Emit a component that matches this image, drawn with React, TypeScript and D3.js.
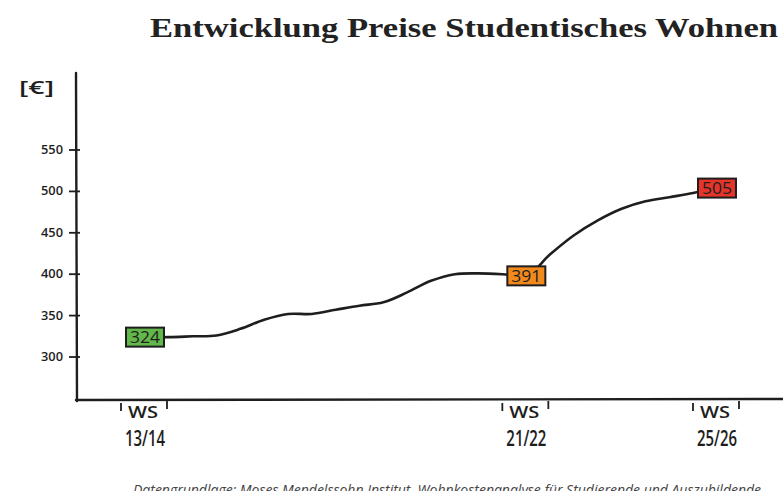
import React from "react";
import * as d3 from "d3";

// ---- data ----
const halfYears = [0, 1, 2, 3, 4, 5, 6, 7, 8, 9, 10, 11, 12, 13, 14, 15, 16, 17, 18, 19, 20, 21, 22, 23, 24];
const prices = [324, 324, 325, 326, 334, 345, 352, 352, 357, 362, 366, 378, 392, 400, 401, 400, 398, 424, 447, 465, 479, 488, 493, 498, 504];

const markerIdx = [0, 16, 24];
const markerLabels = ["324", "391", "505"];
const markerColors = ["#63b84a", "#f2891d", "#e5352b"];

const xCatIdx = [0, 16, 24];
const xCatTop = ["WS", "WS", "WS"];
const xCatBottom = ["13/14", "21/22", "25/26"];

const yTicks = [300, 350, 400, 450, 500, 550];
const yUnit = "[€]";

const title = "Entwicklung Preise Studentisches Wohnen";
const source = "Datengrundlage: Moses Mendelssohn Institut, Wohnkostenanalyse für Studierende und Auszubildende";

const W = 783;
const H = 491;
const INK = "#1e1e1e";
const HAND = "'Open Sans', 'DejaVu Sans', sans-serif";

export default function App() {
  const x = d3.scaleLinear().domain([0, 24]).range([145, 717]);
  const y = d3.scaleLinear().domain([300, 550]).range([357, 150]);
  const axisX = 76;
  const axisY = 400;

  const line = d3
    .line<number>()
    .x((_, i) => x(halfYears[i]))
    .y((d) => y(d))
    .curve(d3.curveCatmullRom.alpha(0.5));

  return (
    <svg
      width={W}
      height={H}
      viewBox={`0 0 ${W} ${H}`}
      style={{ position: "absolute", left: 0, top: 0, background: "#fff" }}
    >
      <rect x={0} y={0} width={W} height={H} fill="#fff" />

      {/* title */}
      <text
        x={150}
        y={37}
        fontFamily="'Liberation Serif', 'DejaVu Serif', serif"
        fontWeight="bold"
        fontSize={27}
        fill="#222"
        textLength={628}
        lengthAdjust="spacingAndGlyphs"
      >
        {title}
      </text>

      {/* axes */}
      <line x1={axisX} y1={73} x2={axisX + 1} y2={axisY + 1} stroke={INK} strokeWidth={2.4} strokeLinecap="round" />
      <line x1={axisX} y1={axisY} x2={W + 5} y2={axisY - 1} stroke={INK} strokeWidth={2.4} strokeLinecap="round" />

      {/* y ticks */}
      {yTicks.map((t) => (
        <g key={t}>
          <line x1={axisX - 7} x2={axisX + 4} y1={y(t)} y2={y(t)} stroke={INK} strokeWidth={1.8} />
          <text
            x={axisX - 13}
            y={y(t) + 4}
            textAnchor="end"
            fontFamily={HAND}
            fontSize={12.5}
            fontWeight={600}
            fill={INK}
            textLength={22}
            lengthAdjust="spacingAndGlyphs"
          >
            {t}
          </text>
        </g>
      ))}
      <text x={19} y={94} fontFamily={HAND} fontSize={18} fontWeight={600} fill={INK} textLength={35} lengthAdjust="spacingAndGlyphs">
        {yUnit}
      </text>

      {/* x ticks & labels */}
      {xCatIdx.map((c, i) => {
        const cx = x(halfYears[c]);
        return (
          <g key={c}>
            <line x1={cx - 24} x2={cx - 24} y1={axisY + 3} y2={axisY + 11} stroke={INK} strokeWidth={1.8} />
            <line x1={cx + 22} x2={cx + 22} y1={axisY + 1} y2={axisY + 9} stroke={INK} strokeWidth={1.8} />
            <text x={cx - 2} y={axisY + 17.5} textAnchor="middle" fontFamily={HAND} fontSize={16} fontWeight={600} fill={INK}
              textLength={30} lengthAdjust="spacingAndGlyphs">
              {xCatTop[i]}
            </text>
            <g transform={`translate(${cx},${axisY + 46}) scale(1,1.3)`}>
              <text
                x={0}
                y={0}
                textAnchor="middle"
                fontFamily={HAND}
                fontSize={17}
                fontWeight={600}
                fill={INK}
                textLength={40}
                lengthAdjust="spacingAndGlyphs"
              >
                {xCatBottom[i]}
              </text>
            </g>
          </g>
        );
      })}

      {/* price line */}
      <path d={line(prices) || ""} fill="none" stroke={INK} strokeWidth={2.6} strokeLinejoin="round" strokeLinecap="round" />

      {/* markers */}
      {markerIdx.map((m, i) => {
        const cx = x(halfYears[m]);
        const cy = y(prices[m]);
        return (
          <g key={m}>
            <rect x={cx - 19} y={cy - 9.5} width={38} height={19} fill={markerColors[i]} stroke={INK} strokeWidth={2} />
            <text
              x={cx}
              y={cy + 6}
              textAnchor="middle"
              fontFamily={HAND}
              fontSize={16}
              fill={INK}
              textLength={30}
              lengthAdjust="spacingAndGlyphs"
            >
              {markerLabels[i]}
            </text>
          </g>
        );
      })}

      {/* source */}
      <text x={133} y={495} fontFamily="'Open Sans', sans-serif" fontStyle="italic" fontSize={14} fill="#444">
        {source}
      </text>
    </svg>
  );
}
